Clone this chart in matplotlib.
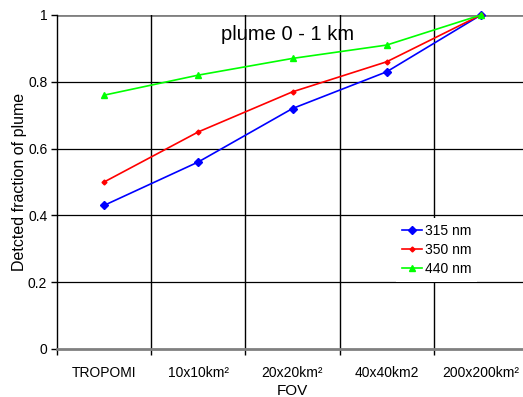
import matplotlib
matplotlib.use("Agg")
import matplotlib.pyplot as plt

plt.rcParams['font.family'] = ['Liberation Sans', 'DejaVu Sans']

categories = ["TROPOMI", "10x10km²", "20x20km²", "40x40km2", "200x200km²"]
frac_315 = [0.43, 0.56, 0.72, 0.83, 1.0]
frac_350 = [0.50, 0.65, 0.77, 0.86, 1.0]
frac_440 = [0.76, 0.82, 0.87, 0.91, 1.0]
y_ticks = [0, 0.2, 0.4, 0.6, 0.8, 1]
y_tick_labels = ["0", "0.2", "0.4", "0.6", "0.8", "1"]

W, H = 523, 397
fig = plt.figure(figsize=(W / 100, H / 100), dpi=100)
ax = fig.add_axes([57 / W, 1 - 349 / H, (528 - 57) / W, (349 - 15) / H])

x = list(range(len(categories)))
ax.set_xlim(-0.5, len(categories) - 0.5)
ax.set_ylim(0, 1)

# grid lines
for yv in y_ticks[1:-1]:
    ax.axhline(yv, color="black", lw=0.9, zorder=1)
ax.axhline(1, color="#808080", lw=2.0, zorder=1)
for xv in [i + 0.5 for i in range(len(categories) - 1)]:
    ax.axvline(xv, color="black", lw=1.0, zorder=1)

ax.plot(x, frac_315, color="#0000ff", marker="D", ms=4, lw=1.2, label="315 nm", zorder=3, clip_on=False)
ax.plot(x, frac_350, color="#ff0000", marker="D", ms=2.5, lw=1.2, label="350 nm", zorder=3, clip_on=False)
ax.plot(x, frac_440, color="#00ff00", marker="^", ms=5, lw=1.2, label="440 nm", zorder=3, clip_on=False)

for s in ["top", "right"]:
    ax.spines[s].set_visible(False)
ax.spines["left"].set_color("black")
ax.spines["left"].set_linewidth(1.0)
ax.spines["bottom"].set_color("#808080")
ax.spines["bottom"].set_linewidth(2.0)

ax.set_yticks(y_ticks)
ax.set_yticklabels(y_tick_labels, fontsize=10)
ax.set_xticks(x)
ax.set_xticklabels(categories, fontsize=10)
ax.tick_params(axis="x", length=0, pad=12)
ax.tick_params(axis="y", length=4, direction="out", width=1, pad=3)
# category boundary ticks
ax.set_xticks([i - 0.5 for i in range(len(categories) + 1)], minor=True)
ax.tick_params(axis="x", which="minor", length=4, direction="out", width=1, color="black")

ax.set_ylabel("Detcted fraction of plume", fontsize=11.5, labelpad=1)
ax.set_xlabel("FOV", fontsize=11, labelpad=3)

fig.text(288 / W, 1 - 35 / H, "plume 0 - 1 km", fontsize=14.5, ha="center", va="center")

# legend sits on a borderless white box that hides the grid behind it
leg = ax.legend(loc="upper left", bbox_to_anchor=((396 - 57) / (528 - 57), (349 - 218) / (349 - 15)),
                frameon=True, fancybox=False, facecolor="white", edgecolor="none", framealpha=1,
                fontsize=10, handlelength=1.5, handletextpad=0.2,
                labelspacing=0.38, borderaxespad=0, borderpad=0.4)
leg.set_zorder(5)

fig.savefig("out.png", dpi=100)
